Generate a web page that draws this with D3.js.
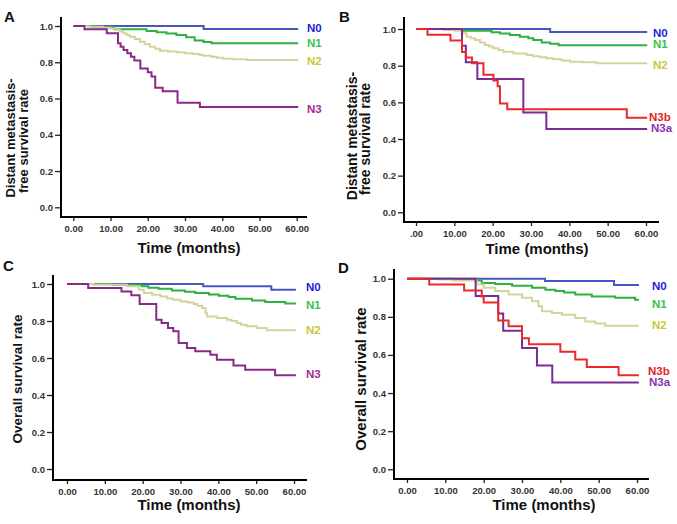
<!DOCTYPE html>
<html>
<head>
<meta charset="utf-8">
<script src="https://cdn.jsdelivr.net/npm/d3@7"></script>
<style>
html,body{margin:0;padding:0;background:#fff;}
svg{display:block;font-family:"Liberation Sans",Arial,sans-serif;}
</style>
</head>
<body>
<svg id="chart" width="677" height="524"></svg>
<script>
// ---------------- DATA ----------------
// Each series: [time (months), survival rate after that time]
const xTickValues = [0, 10, 20, 30, 40, 50, 60];
const xTickLabelsStd = ["0.00", "10.00", "20.00", "30.00", "40.00", "50.00", "60.00"];
const xTickLabelsB = [".00", "10.00", "20.00", "30.00", "40.00", "50.00", "60.00"];
const yTickValues = [0, 0.2, 0.4, 0.6, 0.8, 1.0];
const yTickLabels = ["0.0", "0.2", "0.4", "0.6", "0.8", "1.0"];

// Panel A: distant metastasis-free survival by N0-N3
const A_N0 = [[0,1],[35,0.983],[60.4,0.983]];
const A_N1 = [[0,1],[5,0.994],[11,0.982],[19.7,0.972],[22.4,0.965],[25,0.958],[27.7,0.95],[30.3,0.938],[32.6,0.92],[35,0.912],[37.1,0.905],[60.4,0.905]];
const A_N2 = [[0,1],[4,0.996],[8,0.991],[10,0.986],[11.6,0.978],[12.5,0.97],[13.4,0.96],[14.3,0.95],[15.2,0.941],[16.5,0.928],[17.9,0.913],[19.2,0.9],[20.6,0.886],[22,0.875],[23.3,0.864],[25.5,0.86],[27.8,0.855],[30,0.85],[32.2,0.846],[34,0.84],[35,0.836],[37,0.83],[38.5,0.825],[40.3,0.82],[43,0.817],[46.6,0.813],[60.4,0.813]];
const A_N3 = [[0,1],[3,0.982],[9,0.96],[12,0.905],[12.7,0.886],[13.5,0.868],[14.5,0.85],[15.5,0.83],[16.4,0.81],[18,0.765],[20,0.745],[21,0.722],[22,0.66],[24,0.64],[28,0.576],[34,0.553],[60.4,0.553]];

// Panel B: distant metastasis-free survival, N3 split into N3a / N3b
const B_N0 = [[0,1],[35,0.984],[60.3,0.984]];
const B_N1 = [[0,1],[12,0.99],[19.7,0.982],[21.9,0.975],[24.5,0.967],[27.1,0.958],[29.3,0.949],[30.6,0.94],[32.8,0.927],[35,0.92],[37.2,0.912],[60.3,0.912]];
const B_N2 = [[0,1],[7,0.995],[10,0.99],[11.9,0.977],[13.2,0.958],[14.3,0.95],[15.4,0.94],[16.7,0.926],[18,0.913],[19.1,0.904],[20.2,0.895],[21.5,0.886],[22.8,0.876],[25.4,0.867],[28.9,0.858],[30.5,0.852],[32.3,0.846],[34,0.84],[35.8,0.835],[38,0.828],[40.2,0.822],[43.5,0.818],[47.1,0.813],[60.3,0.813]];
const B_N3a = [[0,1],[12,0.909],[13,0.818],[16,0.727],[28,0.545],[34,0.455],[60.3,0.455]];
const B_N3b = [[0,1],[3,0.969],[9,0.9375],[12,0.875],[13,0.844],[14.6,0.8125],[17.6,0.75],[20.2,0.719],[21.3,0.6875],[21.9,0.594],[23.8,0.5625],[55,0.516],[60.3,0.516]];

// Panel C: overall survival by N0-N3
const C_N0 = [[0,1],[36,0.988],[54,0.969],[60.5,0.969]];
const C_N1 = [[0,1],[12,0.995],[19.8,0.988],[21.5,0.98],[24.2,0.975],[27.7,0.965],[31.2,0.958],[33.9,0.951],[37.5,0.943],[40.1,0.937],[42.7,0.93],[44.5,0.92],[48.9,0.911],[52.4,0.903],[57.7,0.895],[60.5,0.895]];
const C_N2 = [[0,1],[7,0.996],[15.9,0.988],[19,0.969],[20.3,0.951],[22.5,0.942],[24.7,0.933],[26.5,0.922],[28,0.915],[30,0.906],[32,0.9],[33.5,0.892],[34.5,0.882],[35.7,0.87],[36.6,0.843],[37,0.825],[39.6,0.816],[42.3,0.807],[43.5,0.8],[44.9,0.789],[46,0.78],[47.5,0.771],[50.2,0.762],[52.8,0.75],[60.5,0.75]];
const C_N3 = [[0,1],[5.6,0.978],[14.4,0.96],[17,0.939],[19.2,0.892],[23.6,0.807],[25,0.789],[26.7,0.762],[28.1,0.744],[29.5,0.681],[31.7,0.654],[33.9,0.636],[37.9,0.618],[39.6,0.591],[44,0.56],[47.1,0.537],[55,0.507],[60.5,0.507]];

// Panel D: overall survival, N3 split into N3a / N3b
const D_N0 = [[0,1],[36,0.988],[54,0.967],[60.5,0.967]];
const D_N1 = [[0,1],[12,0.995],[17.7,0.99],[19.5,0.978],[23,0.972],[27.4,0.963],[32.6,0.952],[36.1,0.942],[38.7,0.935],[41,0.927],[43.9,0.917],[48.2,0.906],[54.3,0.9],[59.5,0.889],[60.5,0.889]];
const D_N2 = [[0,1],[8,0.996],[12.1,0.99],[18.2,0.97],[20,0.953],[23,0.935],[26.5,0.917],[30,0.9],[32.6,0.882],[34.3,0.855],[35.2,0.829],[37.8,0.82],[40.4,0.811],[43.9,0.794],[46.5,0.776],[49.1,0.765],[51.7,0.753],[60.5,0.753]];
const D_N3a = [[0,1],[17.9,0.909],[23.8,0.818],[25.1,0.727],[30,0.636],[33.9,0.545],[37.9,0.455],[60.5,0.455]];
const D_N3b = [[0,1],[5.8,0.969],[14.9,0.9375],[19.5,0.906],[20,0.875],[23.8,0.781],[26.5,0.75],[30,0.6875],[31.8,0.656],[40,0.617],[43.9,0.576],[46.9,0.537],[55.2,0.494],[60.5,0.494]];

// ---------------- STYLE ----------------
const styles = {
  N0:  {line: "#4658c0", label: "#1f22d8"},
  N1:  {line: "#2fb043", label: "#38c44a"},
  N2:  {line: "#d6d2a0", label: "#c9c73a"},
  N3:  {line: "#8a2a88", label: "#a42a9a"},
  N3a: {line: "#7a2c92", label: "#8e32b0"},
  N3b: {line: "#ea2a2a", label: "#e22424"}
};

// ---------------- LAYOUT ----------------
const panels = [
  {letter: "A", lx: 9.5, ly: 16, x0: 73.3, x60: 296.7, y0: 207.3, y1: 26, axX: 61, axY: 217, xEnd: 307, yTop: 17,
   xLabels: xTickLabelsStd, xTitleX: 189, xTitleY: 247,
   yTitle: [{t: "Distant metastasis-", x: 10, y: 138}, {t: "free survival rate", x: 23, y: 141}], yTitleSize: 13,
   series: [
     {name: "N0", data: A_N0, lab: [307, 28]},
     {name: "N1", data: A_N1, lab: [307, 43]},
     {name: "N2", data: A_N2, lab: [307, 61]},
     {name: "N3", data: A_N3, lab: [307, 109]}
   ]},
  {letter: "B", lx: 344.5, ly: 16, x0: 416, x60: 646, y0: 212.3, y1: 29, axX: 404, axY: 222, xEnd: 659, yTop: 17,
   xLabels: xTickLabelsB, xTitleX: 537, xTitleY: 248,
   yTitle: [{t: "Distant metastasis-", x: 352, y: 136}, {t: "free survival rate", x: 365, y: 139}], yTitleSize: 14,
   series: [
     {name: "N0", data: B_N0, lab: [653, 33]},
     {name: "N1", data: B_N1, lab: [653, 44]},
     {name: "N2", data: B_N2, lab: [653, 65]},
     {name: "N3a", data: B_N3a, lab: [651, 128]},
     {name: "N3b", data: B_N3b, lab: [649, 117]}
   ]},
  {letter: "C", lx: 8.5, ly: 265, x0: 67, x60: 294, y0: 469, y1: 284, axX: 53, axY: 480, xEnd: 307, yTop: 275,
   xLabels: xTickLabelsStd, xTitleX: 189, xTitleY: 504,
   yTitle: [{t: "Overall survival rate", x: 17, y: 379}], yTitleSize: 13.5,
   series: [
     {name: "N0", data: C_N0, lab: [306, 287]},
     {name: "N1", data: C_N1, lab: [306, 305]},
     {name: "N2", data: C_N2, lab: [306, 330]},
     {name: "N3", data: C_N3, lab: [306, 374]}
   ]},
  {letter: "D", lx: 343.5, ly: 267, x0: 407, x60: 637, y0: 469.3, y1: 278.7, axX: 394, axY: 479, xEnd: 649, yTop: 269,
   xLabels: xTickLabelsStd, xTitleX: 544, xTitleY: 504,
   yTitle: [{t: "Overall survival rate", x: 360, y: 379}], yTitleSize: 15,
   series: [
     {name: "N0", data: D_N0, lab: [652, 286]},
     {name: "N1", data: D_N1, lab: [652, 304]},
     {name: "N2", data: D_N2, lab: [652, 325]},
     {name: "N3a", data: D_N3a, lab: [649, 382]},
     {name: "N3b", data: D_N3b, lab: [648, 371]}
   ]}
];

const svg = d3.select("#chart");

panels.forEach(p => {
  const x = d3.scaleLinear().domain([0, 60]).range([p.x0, p.x60]);
  const y = d3.scaleLinear().domain([0, 1]).range([p.y0, p.y1]);
  const g = svg.append("g");

  g.append("text").attr("x", p.lx).attr("y", p.ly)
    .attr("text-anchor", "middle").attr("dominant-baseline", "central")
    .attr("font-size", 15).attr("font-weight", "bold").attr("fill", "#111").text(p.letter);

  const xAxis = d3.axisBottom(x).tickValues(xTickValues)
    .tickFormat((d, i) => p.xLabels[i]).tickSize(4).tickSizeOuter(0).tickPadding(4);
  const xg = g.append("g").attr("transform", `translate(0,${p.axY})`).call(xAxis);
  xg.select(".domain").remove();
  xg.selectAll(".tick line").attr("stroke", "#222").attr("stroke-width", 1.3);
  xg.selectAll(".tick text").attr("font-size", 9.5).attr("font-weight", "bold")
    .attr("fill", "#333").attr("font-family", "Liberation Sans, Arial, sans-serif");

  const yAxis = d3.axisLeft(y).tickValues(yTickValues)
    .tickFormat((d, i) => yTickLabels[i]).tickSize(6).tickSizeOuter(0).tickPadding(2);
  const yg = g.append("g").attr("transform", `translate(${p.axX},0)`).call(yAxis);
  yg.select(".domain").remove();
  yg.selectAll(".tick line").attr("stroke", "#222").attr("stroke-width", 1.3);
  yg.selectAll(".tick text").attr("font-size", 9.5).attr("font-weight", "bold")
    .attr("fill", "#333").attr("font-family", "Liberation Sans, Arial, sans-serif");

  g.append("path")
    .attr("d", `M${p.axX},${p.yTop}V${p.axY}H${p.xEnd}`)
    .attr("fill", "none").attr("stroke", "#000").attr("stroke-width", 2);

  const line = d3.line().x(d => x(d[0])).y(d => y(d[1])).curve(d3.curveStepAfter);
  p.series.forEach(s => {
    g.append("path").datum(s.data)
      .attr("d", line)
      .attr("fill", "none")
      .attr("stroke", styles[s.name].line)
      .attr("stroke-width", 2);
  });

  p.series.forEach(s => {
    g.append("text").attr("x", s.lab[0]).attr("y", s.lab[1])
      .attr("dominant-baseline", "central")
      .attr("font-size", 11.5).attr("font-weight", "bold")
      .attr("fill", styles[s.name].label).text(s.name);
  });

  g.append("text").attr("x", p.xTitleX).attr("y", p.xTitleY)
    .attr("text-anchor", "middle").attr("dominant-baseline", "central")
    .attr("font-size", 15).attr("font-weight", "bold").attr("fill", "#111")
    .text("Time (months)");
  p.yTitle.forEach(t => {
    g.append("text")
      .attr("transform", `translate(${t.x},${t.y}) rotate(-90)`)
      .attr("text-anchor", "middle").attr("dominant-baseline", "central")
      .attr("font-size", p.yTitleSize).attr("font-weight", "bold").attr("fill", "#111")
      .text(t.t);
  });
});
</script>
</body>
</html>
